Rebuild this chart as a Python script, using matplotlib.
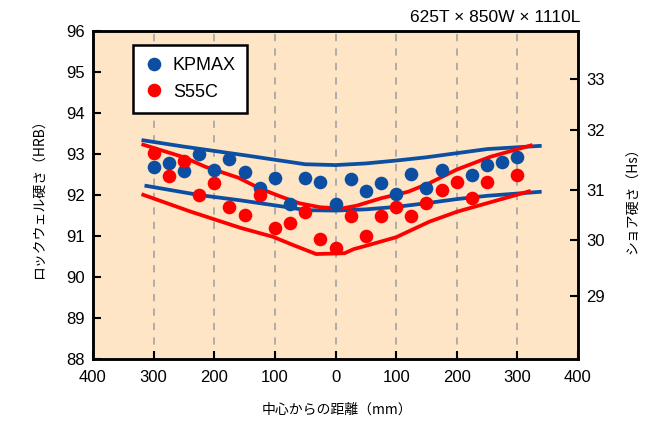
import numpy as np
import matplotlib as mpl
mpl.use('Agg')
import matplotlib.pyplot as plt
from matplotlib import font_manager
from matplotlib.ticker import FuncFormatter

# distance from centre (mm)
pos = [-300, -275, -250, -225, -200, -175, -150, -125, -100, -75, -50, -25,
       0, 25, 50, 75, 100, 125, 150, 175, 200, 225, 250, 275, 300]

# measured hardness (HRB), None = no point
kpmax = [92.69, 92.77, 92.59, 93.00, 92.61, 92.88, 92.57, 92.16, 92.41, 91.77,
         92.41, 92.31, 91.78, 92.39, 92.10, 92.29, 92.02, 92.51, 92.17, 92.62,
         None, 92.50, 92.72, 92.80, 92.92]
s55c = [93.02, 92.46, 92.83, 92.00, 92.29, 91.71, 91.51, 92.00, 91.20, 91.31,
        91.59, 90.93, 90.71, 91.50, 91.00, 91.50, 91.71, 91.50, 91.80, 92.12,
        92.31, 91.92, 92.31, None, 92.50]

# envelope lines
kp_hi_x = [-320, -250, -150, -50, 0, 50, 100, 150, 200, 250, 340]
kp_hi_y = [93.34, 93.18, 92.97, 92.75, 92.73, 92.77, 92.84, 92.92, 93.02, 93.12, 93.20]
kp_lo_x = [-315, -225, -157, -92, -48, 0, 50, 100, 150, 200, 250, 340]
kp_lo_y = [92.23, 92.00, 91.87, 91.73, 91.63, 91.62, 91.65, 91.71, 91.80, 91.90, 91.98, 92.08]

s55_hi_x = [-320, -250, -215, -160, -125, -90, -60, -25, 10, 35, 75, 120, 155, 200, 255, 325]
s55_hi_y = [93.24, 92.92, 92.69, 92.42, 92.16, 91.96, 91.80, 91.70, 91.67, 91.74,
            91.92, 92.08, 92.29, 92.62, 92.93, 93.22]
s55_lo_x = [-320, -240, -157, -103, -70, -32, 15, 30, 50, 100, 155, 200, 250, 322]
s55_lo_y = [92.02, 91.60, 91.20, 90.98, 90.78, 90.56, 90.58, 90.68, 90.76, 90.97,
            91.35, 91.59, 91.80, 92.10]

# shore scale ticks and their HRB position
hs_ticks = ['29', '30', '31', '32', '33']
hs_at_hrb = [89.54, 90.90, 92.11, 93.59, 94.82]

size_label = '625T × 850W × 1110L'

c_blue = '#0b4ea2'
c_red = '#ff0000'
c_bg = '#fde5c5'

names = {f.name for f in font_manager.fontManager.ttflist}
num_font = 'Liberation Sans Narrow' if 'Liberation Sans Narrow' in names else 'Liberation Sans'
jp_font = ['Noto Sans CJK JP', 'DejaVu Sans']

plt.rcParams['font.family'] = [num_font, 'Noto Sans CJK JP', 'DejaVu Sans']

fig = plt.figure(figsize=(6.68, 4.23), dpi=100)
ax = fig.add_axes([93/668, 1-359/423, 485/668, 328/423])
ax.set_facecolor(c_bg)

def to_arr(v):
    return np.array([np.nan if a is None else a for a in v])

lw = 2.7
ax.plot(kp_hi_x, kp_hi_y, color=c_blue, lw=lw, solid_capstyle='butt', zorder=3)
ax.plot(kp_lo_x, kp_lo_y, color=c_blue, lw=lw, solid_capstyle='butt', zorder=3)
ax.plot(s55_hi_x, s55_hi_y, color=c_red, lw=lw, solid_capstyle='butt', zorder=3)
ax.plot(s55_lo_x, s55_lo_y, color=c_red, lw=lw, solid_capstyle='butt', zorder=3)

ax.plot(pos, to_arr(kpmax), 'o', color=c_blue, ms=9.8, mew=0, label='KPMAX', zorder=4)
ax.plot(pos, to_arr(s55c), 'o', color=c_red, ms=9.8, mew=0, label='S55C', zorder=4)

ax.set_xlim(-400, 400)
ax.set_ylim(88, 96)
ax.set_xticks(np.arange(-400, 401, 100))
ax.set_yticks(np.arange(88, 97, 1))
ax.xaxis.set_major_formatter(FuncFormatter(lambda v, p: '{:d}'.format(int(abs(v)))))
ax.xaxis.grid(True, color='#a8a8a8', ls=(0, (4, 4)), lw=1.3)
ax.set_axisbelow(True)

ax.tick_params(axis='x', direction='in', length=5.5, width=1.5, pad=8, labelsize=12)
ax.tick_params(axis='y', direction='in', length=6, width=1.5, pad=6, labelsize=12)
for s in ax.spines.values():
    s.set_linewidth(1.8)
    s.set_zorder(5)

ax2 = ax.twinx()
ax2.set_ylim(88, 96)
ax2.set_yticks(hs_at_hrb)
ax2.set_yticklabels(hs_ticks)
ax2.tick_params(axis='y', direction='in', length=6, width=1.5, pad=6, labelsize=12)
for s in ax2.spines.values():
    s.set_linewidth(1.8)

leg = ax.legend(loc='upper left', bbox_to_anchor=(0.0825, 0.957),
        borderaxespad=0, fancybox=False, framealpha=1, edgecolor='k',
        numpoints=1, handlelength=1.0, handletextpad=0.55, borderpad=0.65,
        labelspacing=0.55, prop={'family': 'Liberation Sans', 'size': 13})
leg.get_frame().set_linewidth(1.8)
leg.set_zorder(6)

fig.text(580/668, 1-18/423, size_label, ha='right', va='center', fontsize=12.5)
fig.text(337/668, 1-410/423, '中心からの距離（mm）', ha='center', va='center',
         fontsize=10, family=jp_font)
fig.text(40/668, 1-196/423, 'ロックウェル硬さ（HRB）', ha='center', va='center',
         rotation=90, fontsize=10, family=jp_font)
fig.text(633/668, 1-197/423, 'ショア硬さ（Hs）', ha='center', va='center',
         rotation=90, fontsize=10, family=jp_font)

fig.savefig('out.png', dpi=100)
